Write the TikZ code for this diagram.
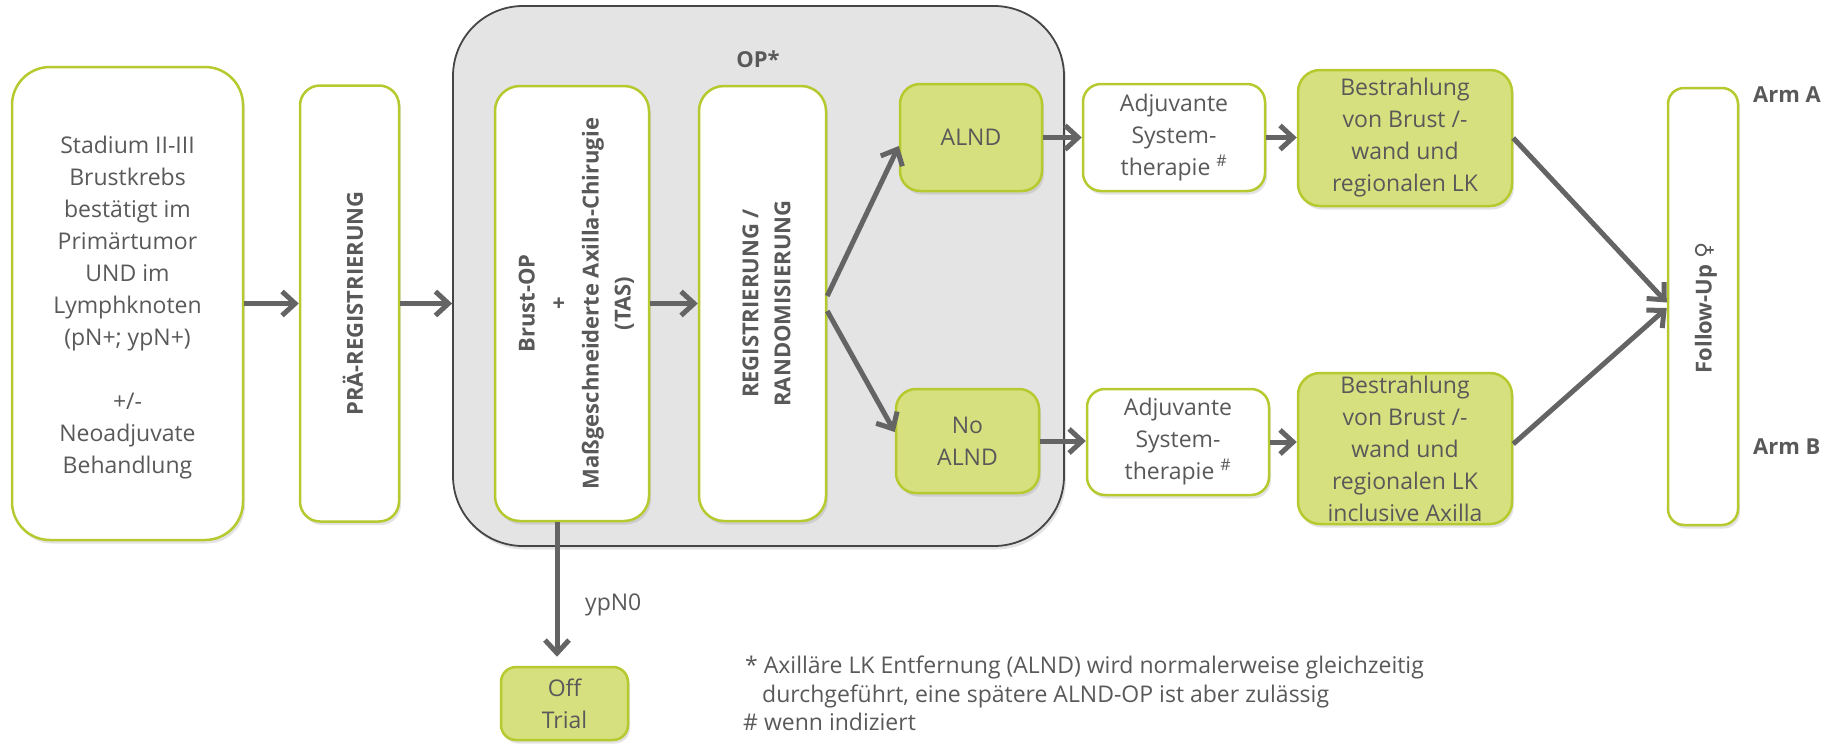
\documentclass[tikz,border=0pt]{standalone}
\usepackage{fontspec}
\setmainfont{Open Sans}
\newfontfamily\symfont{DejaVu Sans}
\usetikzlibrary{arrows.meta,shadows}
\definecolor{txt}{HTML}{595959}
\definecolor{arr}{HTML}{646464}
\definecolor{gborder}{HTML}{B6C92E}
\definecolor{gfill}{HTML}{D7E07E}
\definecolor{opfill}{HTML}{E4E4E4}
\definecolor{opborder}{HTML}{454545}
\begin{document}
\begin{tikzpicture}[x=1pt,y=-1pt,
  every node/.style={text=txt, font=\fontsize{23}{32}\selectfont, inner sep=0pt},
  bf/.style={font=\fontsize{22}{32}\selectfont\bfseries},
  shad/.style={drop shadow={shadow xshift=2pt, shadow yshift=-3.5pt, opacity=0.22}},
  box/.style={draw=gborder, line width=2.5pt, fill=white, rounded corners=#1, shad, align=center},
  box/.default=20pt,
  gbox/.style={box=#1, fill=gfill},
  gbox/.default=20pt,
  arrow/.style={draw=arr, line width=5pt, -{Straight Barb[length=13pt,width=24pt]}},
  note/.style={anchor=base west, font=\fontsize{23}{28}\selectfont}
]
\path[use as bounding box] (0,0) rectangle (1833,745);

% OP group
\node[draw=opborder, line width=1.8pt, fill=opfill, rounded corners=70pt,
      minimum width=611pt, minimum height=540pt, shad] (op) at (758.5,276) {};
\node[bf] (oplabel) at (758,59) {OP*};

% left boxes
\node[box=38pt, minimum width=231pt, minimum height=473pt] (stad) at (127.5,303.5) {};
\node[align=center] (stadtext) at (127.5,308)
  {Stadium II-III\\Brustkrebs\\bestätigt im\\Primärtumor\\UND im\\Lymphknoten\\(pN+; ypN+)\\[32pt]+/-\\Neoadjuvate\\Behandlung};
\node[box=20pt, minimum width=99pt, minimum height=436pt] (pre) at (349.5,303.5) {};
\node[bf, rotate=90] (pretext) at (353,303.5) {PRÄ-REGISTRIERUNG};

% inside OP
\node[box=25pt, minimum width=154pt, minimum height=435pt] (brust) at (572,303.5) {};
\node[bf, rotate=90, align=center] (brusttext) at (576.5,303.5)
  {Brust-OP\\+\\Maßgeschneiderte Axilla-Chirugie\\(TAS)};
\node[box=25pt, minimum width=127pt, minimum height=435pt] (reg) at (762.5,303.5) {};
\node[bf, rotate=90, align=center] (regtext) at (766.5,303.5) {REGISTRIERUNG /\\RANDOMISIERUNG};
\node[gbox=20pt, minimum width=142pt, minimum height=107pt] (alnd) at (971,137.5) {ALND};
\node[gbox=20pt, minimum width=143pt, minimum height=104pt] (noalnd) at (967.5,441) {No\\ALND};

% arms
\node[box=18pt, minimum width=182pt, minimum height=107pt] (adja) at (1174,137.5)
  {Adjuvante\\System-\\therapie \textsuperscript{\#}};
\node[gbox=22pt, minimum width=214pt, minimum height=136pt] (besta) at (1405,138)
  {Bestrahlung\\von Brust /-\\wand und\\regionalen LK};
\node[box=18pt, minimum width=182pt, minimum height=106pt] (adjb) at (1178,442)
  {Adjuvante\\System-\\therapie \textsuperscript{\#}};
\node[gbox=22pt, minimum width=214pt, minimum height=151pt] (bestb) at (1405,448.5)
  {Bestrahlung\\von Brust /-\\wand und\\regionalen LK\\inclusive Axilla};

% follow-up
\node[box=16pt, minimum width=70pt, minimum height=437pt] (fu) at (1703,306.5) {};
\node[bf, rotate=90] (futext) at (1706,308) {Follow-Up {\symfont\fontsize{22}{22}\selectfont ♀}};
\node[bf, anchor=west] (arma) at (1753,95) {Arm A};
\node[bf, anchor=west] (armb) at (1753,447) {Arm B};

% off trial
\node[gbox=15pt, minimum width=127pt, minimum height=73pt] (off) at (564.5,703.5) {Off\\Trial};
\node[anchor=west] (ypn) at (585,605) {ypN0};

% arrows
\draw[arrow] (stad.east) -- (pre.west);
\draw[arrow] (pre.east) -- (pre.east -| op.west);
\draw[arrow] (brust.east) -- (reg.west);
\draw[arrow] ([yshift=7.5pt]reg.east) -- ([yshift=-8.5pt]alnd.west);
\draw[arrow] ([yshift=-7.5pt]reg.east) -- ([yshift=9pt]noalnd.west);
\draw[arrow] (alnd.east) -- (adja.west);
\draw[arrow] (adja.east) -- (adja.east -| besta.west);
\draw[arrow] (noalnd.east) -- (noalnd.east -| adjb.west);
\draw[arrow] (adjb.east) -- (adjb.east -| bestb.west);
\draw[arrow] (besta.east) -- ([yshift=4pt]fu.west);
\draw[arrow] ([yshift=4.5pt]bestb.east) -- ([yshift=-1.5pt]fu.west);
\draw[arrow] ([xshift=-15pt]brust.south) -- ([xshift=-15pt,yshift=9pt]brust.south |- off.north);

% notes
\node[note] (n1) at (745,673) {* Axilläre LK Entfernung (ALND) wird normalerweise gleichzeitig};
\node[note] (n2) at (762,702) {durchgeführt, eine spätere ALND-OP ist aber zulässig};
\node[note] (n3) at (743,730) {\# wenn indiziert};
\end{tikzpicture}
\end{document}
